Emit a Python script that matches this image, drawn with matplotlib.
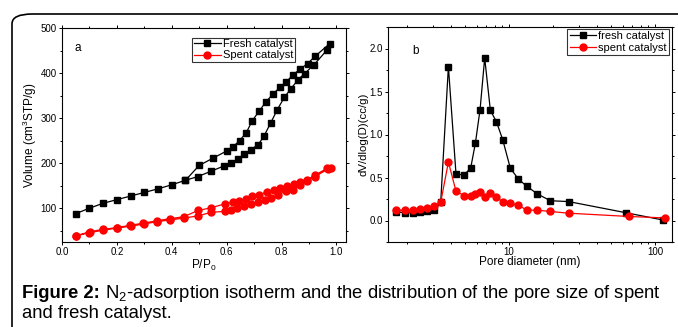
import matplotlib
matplotlib.use("Agg")
import matplotlib.pyplot as plt
from matplotlib.patches import FancyBboxPatch
from matplotlib.ticker import MultipleLocator, FixedLocator, NullFormatter, LogLocator, FuncFormatter

plt.rcParams['font.family'] = ['Liberation Sans', 'DejaVu Sans']
plt.rcParams['mathtext.fontset'] = 'custom'
plt.rcParams['mathtext.rm'] = 'Liberation Sans'
plt.rcParams['mathtext.it'] = 'Liberation Sans:italic'
plt.rcParams['mathtext.bf'] = 'Liberation Sans:bold'

# ---- Panel a: N2 isotherms ----
fresh_ads_p = [0.05, 0.10, 0.15, 0.20, 0.25, 0.30, 0.35, 0.40, 0.45, 0.494, 0.543, 0.591, 0.616, 0.64,
               0.664, 0.688, 0.715, 0.737, 0.761, 0.785, 0.81, 0.834, 0.86, 0.884, 0.918, 0.967]
fresh_ads_v = [88, 100, 111, 119, 127, 135, 143, 152, 162, 170, 182, 194, 201, 209,
               220, 230, 241, 261, 290, 319, 346, 365, 385, 399, 418, 452]
fresh_des_p = [0.975, 0.922, 0.895, 0.868, 0.842, 0.818, 0.795, 0.77, 0.743, 0.718, 0.693, 0.672,
               0.647, 0.623, 0.60, 0.55, 0.50, 0.45]
fresh_des_v = [465, 437, 421, 409, 396, 381, 369, 354, 336, 315, 294, 268,
               250, 236, 227, 211, 195, 162]

spent_ads_p = [0.05, 0.10, 0.15, 0.20, 0.25, 0.30, 0.345, 0.395, 0.443, 0.496, 0.544, 0.595, 0.616,
               0.638, 0.664, 0.689, 0.713, 0.74, 0.762, 0.789, 0.815, 0.841, 0.868, 0.892, 0.921, 0.97]
spent_ads_v = [38, 46, 51, 56, 60, 65, 70, 74, 78, 83, 91, 93, 96,
               101, 104, 109, 114, 118, 123, 130, 138, 141, 151, 161, 170, 187]
spent_des_p = [0.98, 0.967, 0.921, 0.892, 0.868, 0.844, 0.819, 0.795, 0.771, 0.746, 0.718, 0.694,
               0.67, 0.646, 0.622, 0.595, 0.544, 0.496, 0.443, 0.395, 0.345, 0.297, 0.248, 0.2,
               0.149, 0.103, 0.052]
spent_des_v = [190, 189, 173, 163, 158, 154, 150, 145, 140, 136, 130, 127,
               121, 117, 113, 110, 101, 95, 81, 77, 72, 67, 62, 57, 53, 48, 39]

# ---- Panel b: pore size distribution ----
fresh_d = [1.68, 1.94, 2.19, 2.46, 2.76, 3.06, 3.40, 3.84, 4.33, 4.92, 5.46, 5.88, 6.33, 6.81,
           7.45, 8.19, 9.05, 10.2, 11.6, 13.2, 15.6, 19.2, 25.6, 63.5, 114]
fresh_dv = [0.10, 0.09, 0.09, 0.10, 0.11, 0.12, 0.21, 1.79, 0.54, 0.53, 0.61, 0.90, 1.29, 1.89,
            1.28, 1.15, 0.94, 0.61, 0.48, 0.40, 0.31, 0.23, 0.22, 0.09, 0.005]
spent_d = [1.68, 1.94, 2.19, 2.46, 2.76, 3.06, 3.40, 3.84, 4.33, 4.92, 5.46, 5.88, 6.33, 6.81,
           7.45, 8.19, 9.05, 10.2, 11.6, 13.2, 15.6, 19.2, 25.6, 66, 117]
spent_dv = [0.12, 0.12, 0.12, 0.13, 0.14, 0.17, 0.21, 0.68, 0.34, 0.29, 0.29, 0.31, 0.33, 0.27,
            0.32, 0.27, 0.22, 0.20, 0.18, 0.12, 0.12, 0.105, 0.085, 0.047, 0.03]

caption_bold = "Figure 2:"
caption_rest = " N$_2$-adsorption isotherm and the distribution of the pore size of spent"
caption_line2 = "and fresh catalyst."

W, H = 678, 327
fig = plt.figure(figsize=(W / 100, H / 100), dpi=100)

# outer rounded frame (extends beyond the image)
frame = FancyBboxPatch((12 / W, -0.2), 1.2, (H - 14) / H + 0.2,
                       boxstyle="round,pad=0,rounding_size=0.03",
                       transform=fig.transFigure, fill=False, lw=1.2, ec='black')
fig.patches.append(frame)

def px_axes(x0, y0, x1, y1):
    return fig.add_axes([x0 / W, (H - y1) / H, (x1 - x0) / W, (y1 - y0) / H])

tick_fs = 7
lab_fs = 8.5

def style(ax):
    for s in ax.spines.values():
        s.set_linewidth(0.8)
    ax.tick_params(which='both', direction='out', top=True, right=True,
                   labeltop=False, labelright=False, labelsize=tick_fs, width=0.7)
    ax.tick_params(which='major', length=2.5, pad=1.2)
    ax.tick_params(which='minor', length=1.5)

# Panel a
ax1 = px_axes(62, 28, 346, 242)
ax1.plot(fresh_ads_p + fresh_des_p, fresh_ads_v + fresh_des_v, '-s', color='black',
         lw=0.9, ms=4.5, label='Fresh catalyst')
ax1.plot(spent_ads_p + spent_des_p, spent_ads_v + spent_des_v, '-o', color='#ff0000',
         lw=0.9, ms=5, label='Spent catalyst')
ax1.set_xlim(0.0, 1.035)
ax1.set_ylim(25, 500)
ax1.xaxis.set_major_locator(MultipleLocator(0.2))
ax1.xaxis.set_minor_locator(MultipleLocator(0.1))
ax1.yaxis.set_major_locator(FixedLocator([100, 200, 300, 400, 500]))
ax1.yaxis.set_minor_locator(FixedLocator([50, 150, 250, 350, 450]))
ax1.xaxis.set_major_formatter(FuncFormatter(lambda v, p: f"{v:.1f}"))
style(ax1)
ax1.set_xlabel("P/P$_0$", fontsize=lab_fs, labelpad=0.5)
ax1.set_ylabel("Volume (cm$^3$STP/g)", fontsize=lab_fs, labelpad=1)
ax1.text(0.045, 0.905, "a", transform=ax1.transAxes, fontsize=8.5, va='center')
leg1 = ax1.legend(loc='upper right', bbox_to_anchor=(0.82, 0.955), fontsize=8, frameon=True,
                  fancybox=False, edgecolor='black', borderpad=0.15, labelspacing=0.1,
                  handlelength=2.4, handletextpad=0.2, borderaxespad=0)
leg1.get_frame().set_linewidth(0.8)

# Panel b
ax2 = px_axes(388, 27, 672, 242)
ax2.plot(fresh_d, fresh_dv, '-s', color='black', lw=0.9, ms=4.5, label='fresh catalyst')
ax2.plot(spent_d, spent_dv, '-o', color='#ff0000', lw=0.9, ms=5, label='spent catalyst')
ax2.set_xscale('log')
ax2.set_xlim(1.48, 131)
ax2.set_ylim(-0.25, 2.25)
ax2.xaxis.set_major_locator(LogLocator(base=10, numticks=10))
ax2.xaxis.set_minor_locator(LogLocator(base=10, subs=range(2, 10), numticks=20))
ax2.xaxis.set_major_formatter(FuncFormatter(lambda v, p: f"{v:g}"))
ax2.xaxis.set_minor_formatter(NullFormatter())
ax2.yaxis.set_major_locator(MultipleLocator(0.5))
ax2.yaxis.set_minor_locator(MultipleLocator(0.25))
ax2.yaxis.set_major_formatter(FuncFormatter(lambda v, p: f"{v:.1f}"))
style(ax2)
ax2.set_xlabel("Pore diameter (nm)", fontsize=lab_fs, labelpad=-0.5)
ax2.set_ylabel("dV/dlog(D)(cc/g)", fontsize=8.2, labelpad=1)
ax2.text(0.085, 0.89, "b", transform=ax2.transAxes, fontsize=8.5, va='center')
leg2 = ax2.legend(loc='upper right', bbox_to_anchor=(0.99, 0.99), fontsize=8, frameon=True,
                  fancybox=False, edgecolor='black', borderpad=0.2, labelspacing=0.15,
                  handlelength=2.4, handletextpad=0.2, borderaxespad=0)
leg2.get_frame().set_linewidth(0.8)

# caption
cap_fs = 13.3
t = fig.text(22 / W, 1 - 298 / H, caption_bold, fontsize=cap_fs, fontweight='bold', va='baseline')
fig.canvas.draw()
bb = t.get_window_extent()
fig.text(bb.x1 / W, 1 - 298 / H, caption_rest, fontsize=cap_fs, va='baseline')
fig.text(22 / W, 1 - 318 / H, caption_line2, fontsize=cap_fs, va='baseline')

fig.savefig("out.png", dpi=100)
